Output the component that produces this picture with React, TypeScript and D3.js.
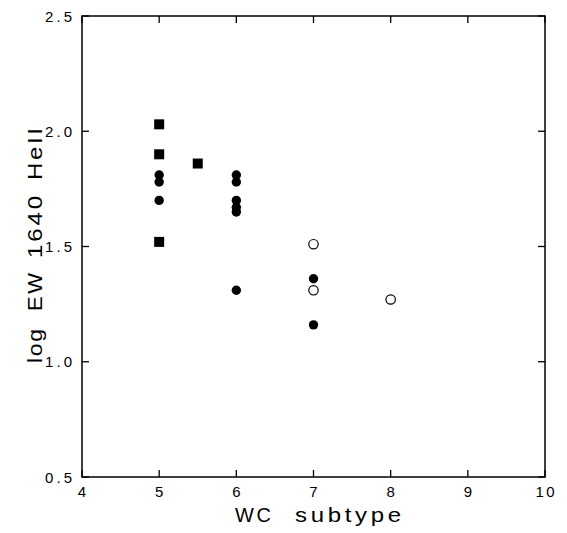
import React from "react";
import * as d3 from "d3";

const xTicks = [4, 5, 6, 7, 8, 9, 10];
const yTicks = [0.5, 1.0, 1.5, 2.0, 2.5];
const yTickLabels = ["0.5", "1.0", "1.5", "2.0", "2.5"];

const squareX = [5, 5, 5, 5.5];
const squareY = [2.03, 1.9, 1.52, 1.86];

const filledX = [5, 5, 5, 6, 6, 6, 6, 6, 6, 7, 7];
const filledY = [1.81, 1.78, 1.7, 1.81, 1.78, 1.7, 1.67, 1.65, 1.31, 1.36, 1.16];

const openX = [7, 7, 8];
const openY = [1.51, 1.31, 1.27];

const xTitleWords = ["WC", "subtype"];
const yTitleWords = ["log", "EW", "1640", "HeII"];

const W = 567;
const H = 533;
const margin = { left: 82, right: 22, top: 16, bottom: 56 };
const font = "'Liberation Sans', Arial, sans-serif";

// layout of title words: [start, length, horizontal stretch]
const xTitleLayout = [
  [235, 36, 1.0],
  [295, 106, 1.2],
];
const yTitleLayout = [
  [363, 34, 1.15],
  [311, 38, 1.1],
  [258, 62, 1.2],
  [180, 52, 1.2],
];

export default function App() {
  const x = d3.scaleLinear().domain([4, 10]).range([margin.left, W - margin.right]);
  const y = d3.scaleLinear().domain([0.5, 2.5]).range([H - margin.bottom, margin.top]);
  const [x0, x1] = x.range();
  const [y0, y1] = y.range();
  const tl = 7;
  const sq = 10;
  const r = 4.7;

  return (
    <svg
      width={W}
      height={H}
      style={{ position: "absolute", left: 0, top: 0, display: "block", background: "#fff" }}
    >
      <rect x={x0} y={y1} width={x1 - x0} height={y0 - y1} fill="none" stroke="#000" strokeWidth={1.5} />
      {xTicks.map((t) => (
        <g key={"xt" + t}>
          <line x1={x(t)} x2={x(t)} y1={y0} y2={y0 - tl} stroke="#000" strokeWidth={1.3} />
          <line x1={x(t)} x2={x(t)} y1={y1} y2={y1 + tl} stroke="#000" strokeWidth={1.3} />
          <text
            x={String(t).length > 1 ? x(t) - 9.5 : x(t)}
            y={y0 + 20}
            textAnchor={String(t).length > 1 ? "start" : "middle"}
            fontFamily={font}
            fontSize={15}
            {...(String(t).length > 1 ? { textLength: 19, lengthAdjust: "spacing" } : {})}
          >
            {String(t)}
          </text>
        </g>
      ))}
      {yTicks.map((t, i) => (
        <g key={"yt" + t}>
          <line x1={x0} x2={x0 + tl} y1={y(t)} y2={y(t)} stroke="#000" strokeWidth={1.3} />
          <line x1={x1} x2={x1 - tl} y1={y(t)} y2={y(t)} stroke="#000" strokeWidth={1.3} />
          <text
            x={x0 - 37}
            y={y(t) + 5.5}
            textAnchor="start"
            fontFamily={font}
            fontSize={15}
            textLength={27}
            lengthAdjust="spacing"
          >
            {yTickLabels[i]}
          </text>
        </g>
      ))}
      {squareX.map((v, i) => (
        <rect key={"s" + i} x={x(v) - sq / 2} y={y(squareY[i]) - sq / 2} width={sq} height={sq} fill="#000" />
      ))}
      {filledX.map((v, i) => (
        <circle key={"f" + i} cx={x(v)} cy={y(filledY[i])} r={r} fill="#000" />
      ))}
      {openX.map((v, i) => (
        <circle key={"o" + i} cx={x(v)} cy={y(openY[i])} r={r} fill="#fff" stroke="#000" strokeWidth={1.2} />
      ))}
      {xTitleWords.map((w, i) => (
        <text
          key={"xw" + i}
          transform={`translate(${xTitleLayout[i][0]}, 522) scale(${xTitleLayout[i][2]}, 1)`}
          x={0}
          y={0}
          fontFamily={font}
          fontSize={20}
          textLength={xTitleLayout[i][1] / xTitleLayout[i][2]}
          lengthAdjust="spacing"
        >
          {w}
        </text>
      ))}
      {yTitleWords.map((w, i) => (
        <text
          key={"yw" + i}
          transform={`translate(42, ${yTitleLayout[i][0]}) rotate(-90) scale(${yTitleLayout[i][2]}, 1)`}
          x={0}
          y={0}
          fontFamily={font}
          fontSize={20}
          textLength={yTitleLayout[i][1] / yTitleLayout[i][2]}
          lengthAdjust="spacing"
        >
          {w}
        </text>
      ))}
    </svg>
  );
}
